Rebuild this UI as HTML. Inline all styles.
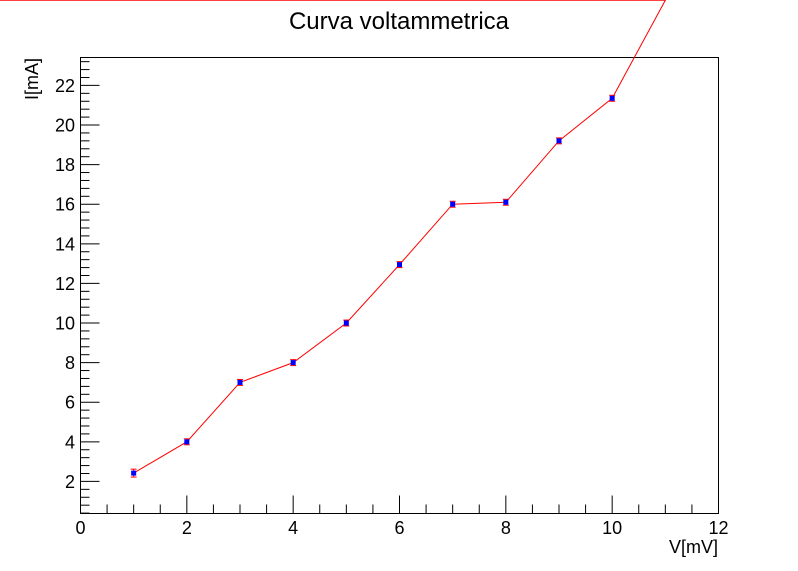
<!DOCTYPE html>
<html><head><meta charset="utf-8"><style>
body{margin:0;background:#fff;}
svg{display:block;font-family:"Liberation Sans",sans-serif;}
</style></head><body>
<svg id="c" width="798" height="571">
<text x="399" y="29" font-size="24" text-anchor="middle">Curva voltammetrica</text>
<rect x="80.5" y="57.5" width="638" height="456" fill="none" stroke="#000" stroke-width="1"/>
<g id="axes"></g>
<g id="series"></g>
<text x="718" y="553" font-size="18" text-anchor="end">V[mV]</text>
<text transform="translate(38,58) rotate(-90)" font-size="18" text-anchor="end">I[mA]</text>
</svg>
<script>
const xVals=[1,2,3,4,5,6,7,8,9,10,11,-1.6];
const yVals=[2.42,4.0,7.0,8.0,10.0,12.95,16.0,16.1,19.2,21.35,26.3,26.3];
const yErr=[0.2,0.15,0.15,0.15,0.15,0.15,0.15,0.15,0.15,0.15,0,0];
const xTicks=[0,2,4,6,8,10,12];
const yTicks=[2,4,6,8,10,12,14,16,18,20,22];
const NS="http://www.w3.org/2000/svg";
const X0=80.5,X1=718.5,Y0=513.5,Y1=57.5,xmin=0,xmax=12,ymin=0.38,ymax=23.41;
const sx=v=>X0+(v-xmin)/(xmax-xmin)*(X1-X0);
const sy=v=>Y0-(v-ymin)/(ymax-ymin)*(Y0-Y1);
function mk(t,a,p){const e=document.createElementNS(NS,t);for(const k in a)e.setAttribute(k,a[k]);p.appendChild(e);return e;}
const ax=document.getElementById('axes'),se=document.getElementById('series');
for(let v=0;v<=12.001;v+=0.5){const maj=Math.abs(v/2-Math.round(v/2))<1e-6;const x=sx(v);
 const l=mk('line',{x1:x,x2:x,y1:Y0,y2:Y0-(maj?18:9),stroke:'#000'},ax);
 
 }
xTicks.forEach(v=>{const t=mk('text',{x:sx(v),y:534,'font-size':18,'text-anchor':'middle'},ax);t.textContent=v;
 
 });
for(let v=0.4;v<=23.4;v+=0.4){const maj=Math.abs(v/2-Math.round(v/2))<1e-6;const y=sy(v);
 const l=mk('line',{x1:X0,x2:X0+(maj?19:9),y1:y,y2:y,stroke:'#000'},ax);
 
 }
yTicks.forEach(v=>{const t=mk('text',{x:75,y:sy(v)+6.5,'font-size':18,'text-anchor':'end'},ax);t.textContent=v;
 
 });
const pts=xVals.map((x,i)=>sx(x)+','+sy(yVals[i])).join(' ');
const pl=mk('polyline',{points:pts,fill:'none',stroke:'#f00','stroke-width':1},se);


xVals.forEach((x,i)=>{if(yErr[i]<=0)return;const cx=sx(x),cy=sy(yVals[i]),e=yErr[i];
 const g=mk('g',{},se);
 
 
 mk('line',{x1:cx,x2:cx,y1:sy(yVals[i]+e),y2:sy(yVals[i]-e),stroke:'#f00'},g);
 mk('line',{x1:cx-3,x2:cx+3,y1:sy(yVals[i]+e),y2:sy(yVals[i]+e),stroke:'#f00'},g);
 mk('line',{x1:cx-3,x2:cx+3,y1:sy(yVals[i]-e),y2:sy(yVals[i]-e),stroke:'#f00'},g);
 mk('rect',{x:cx-2.5,y:cy-2.5,width:5,height:5,fill:'#00f'},g);});
</script>
</body></html>
